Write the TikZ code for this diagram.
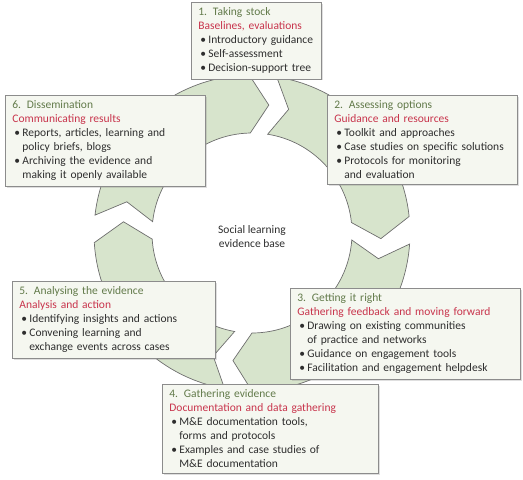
\documentclass[tikz,border=0pt]{standalone}
\usepackage{fontspec}
\setmainfont{Carlito}
\usepackage{xcolor}
\usetikzlibrary{positioning,shadows}
\definecolor{ringfill}{HTML}{D7E4CC}
\definecolor{ringline}{HTML}{6E6E6E}
\definecolor{boxfill}{HTML}{F5F7F0}
\definecolor{boxline}{HTML}{8C8C8C}
\definecolor{stepcol}{HTML}{627A4A}
\definecolor{aimcol}{HTML}{C8344C}
\definecolor{txtcol}{HTML}{2E2E2E}
\newcommand{\bul}{\hspace*{2pt}\makebox[8pt][l]{\textbullet}}
\newcommand{\cont}{\hspace*{10pt}}

\begin{document}
\begin{tikzpicture}[
  x=1pt, y=1pt,
  ring/.style={fill=ringfill, draw=ringline, line width=0.7pt, line join=miter},
  box/.style={draw=boxline, fill=boxfill, line width=0.8pt, anchor=north west,
              align=left, inner xsep=7pt, inner ysep=5.5pt, text=txtcol,
              drop shadow={shadow xshift=1.2pt, shadow yshift=-1.2pt, opacity=0.25},
              font=\fontsize{11.5}{14}\selectfont},
  hub/.style={align=center, text=txtcol, font=\fontsize{11.5}{14}\selectfont}]

  \useasboundingbox (-252,-247) rectangle (271,233);

  \foreach \p/\q in {91/6, 6/-90, -90/-176.5, -176.5/-269} {
    \pgfmathsetmacro{\a}{\p-10}
    \draw[ring] (\a:158pt) arc[start angle=\a, end angle=\q, radius=158pt]
      -- ({\q-8.5}:129pt) -- (\q:100pt)
      arc[start angle=\q, end angle=\a, radius=100pt]
      -- ({\a-7.5}:129pt) -- cycle;
  }

  \node[hub] (hub) at (0,-4) {Social learning\\evidence base};

  \node[box, text width=116pt] (take) at (-61,231) {{\color{stepcol}1. Taking stock}\\
    {\color{aimcol}Baselines, evaluations}\\
    \bul Introductory guidance\\
    \bul Self-assessment\\
    \bul Decision-support tree};
  \node[box, text width=176pt] (assess) at (75,138) {{\color{stepcol}2. Assessing options}\\
    {\color{aimcol}Guidance and resources}\\
    \bul Toolkit and approaches\\
    \bul Case studies on specific solutions\\
    \bul Protocols for monitoring\\
    \cont and evaluation};
  \node[box, text width=216pt] (right) at (38,-55) {{\color{stepcol}3. Getting it right}\\
    {\color{aimcol}Gathering feedback and moving forward}\\
    \bul Drawing on existing communities\\
    \cont of practice and networks\\
    \bul Guidance on engagement tools\\
    \bul Facilitation and engagement helpdesk};
  \node[box, text width=202pt] (gather) at (-90,-151) {{\color{stepcol}4. Gathering evidence}\\
    {\color{aimcol}Documentation and data gathering}\\
    \bul M\&E documentation tools,\\
    \cont forms and protocols\\
    \bul Examples and case studies of\\
    \cont M\&E documentation};
  \node[box, text width=189pt] (analyse) at (-240,-48) {{\color{stepcol}5. Analysing the evidence}\\
    {\color{aimcol}Analysis and action}\\
    \bul Identifying insights and actions\\
    \bul Convening learning and\\
    \cont exchange events across cases};
  \node[box, text width=186pt] (dissem) at (-247,138) {{\color{stepcol}6. Dissemination}\\
    {\color{aimcol}Communicating results}\\
    \bul Reports, articles, learning and\\
    \cont policy briefs, blogs\\
    \bul Archiving the evidence and\\
    \cont making it openly available};
\end{tikzpicture}
\end{document}
